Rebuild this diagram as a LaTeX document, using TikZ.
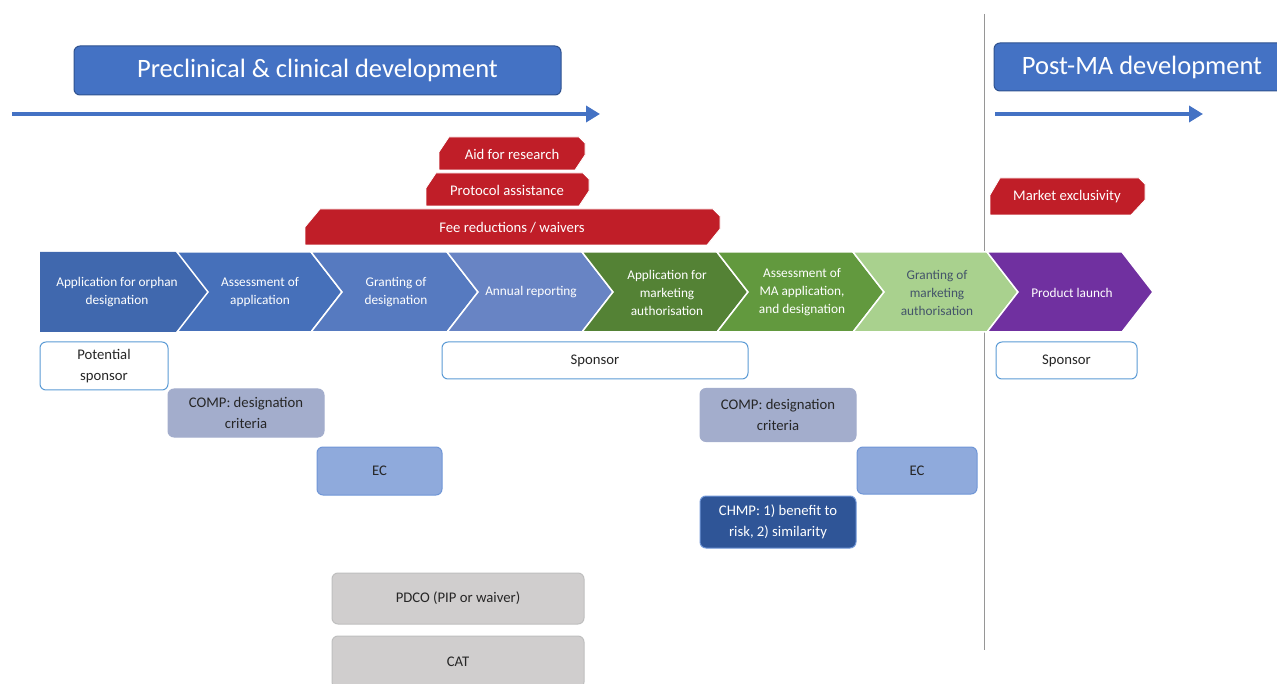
\documentclass[tikz,border=0pt]{standalone}
\usepackage{fontspec}
\setmainfont{Carlito}
\usetikzlibrary{arrows.meta}
\definecolor{titleblue}{RGB}{68,114,196}
\definecolor{titleedge}{RGB}{47,82,143}
\definecolor{tagred}{RGB}{192,30,40}
\definecolor{chevA}{RGB}{64,104,174}
\definecolor{chevB}{RGB}{70,112,186}
\definecolor{chevC}{RGB}{86,122,192}
\definecolor{chevD}{RGB}{104,132,196}
\definecolor{chevE}{RGB}{84,130,53}
\definecolor{chevF}{RGB}{98,153,62}
\definecolor{chevG}{RGB}{169,209,142}
\definecolor{chevH}{RGB}{112,48,160}
\definecolor{edgeblue}{RGB}{91,155,213}
\definecolor{compfill}{RGB}{163,173,204}
\definecolor{ecfill}{RGB}{143,170,220}
\definecolor{ecedge}{RGB}{112,150,214}
\definecolor{chmpfill}{RGB}{47,85,151}
\definecolor{grayfill}{RGB}{208,206,206}
\definecolor{grayedge}{RGB}{191,191,191}
\definecolor{textdark}{RGB}{38,38,38}
\definecolor{textslate}{RGB}{68,84,106}
\definecolor{divider}{RGB}{150,150,150}
\begin{document}
\begin{tikzpicture}[x=1pt,y=-1pt,
    titlebox/.style={draw=titleedge,line width=1pt,fill=titleblue,rounded corners=6pt,
      inner sep=0pt,text=white,font=\fontsize{26.5}{30}\selectfont},
    phasearrow/.style={draw=titleblue,line width=4pt,-{Triangle[width=16pt,length=14pt]}},
    tag/.style={fill=tagred,draw=white,line width=0.8pt},
    tagtext/.style={text=white,font=\fontsize{14.7}{18}\selectfont},
    chev/.style={draw=white,line width=1.5pt},
    chevtext/.style={align=center,text=white,font=\fontsize{13.3}{18}\selectfont},
    actor/.style={rounded corners=6pt,inner sep=0pt,align=center,line width=1pt,
      text=textdark,font=\fontsize{14.7}{21.5}\selectfont},
    sponsorbox/.style={actor,draw=edgeblue,fill=white},
    compbox/.style={actor,draw=compfill,fill=compfill},
    ecbox/.style={actor,draw=ecedge,fill=ecfill},
    chmpbox/.style={actor,draw=ecedge,fill=chmpfill,text=white},
    graybox/.style={actor,draw=grayedge,fill=grayfill}]
  \useasboundingbox (0,0) rectangle (1277,684);
  \clip (0,0) rectangle (1277,684);

  % phase headers
  \node[titlebox,minimum width=487pt,minimum height=49pt] (preclin) at (317.5,70.5)
    {\raisebox{-2pt}{Preclinical \& clinical development}};
  \node[titlebox,minimum width=296pt,minimum height=48pt] (postma) at (1142,67)
    {\raisebox{-2pt}{Post-MA development}};
  \coordinate (preStart) at (12,114);
  \coordinate (preEnd)   at (600,114);
  \coordinate (postStart) at (995,114);
  \coordinate (postEnd)   at (1203,114);
  \draw[phasearrow] (preStart) -- (preEnd);
  \draw[phasearrow] (postStart) -- (postEnd);

  % divider
  \coordinate (divTop) at (984,14);
  \coordinate (divBot) at (984,650);
  \draw[divider,line width=1pt] (divTop) -- (divBot);

  % incentives
  \draw[tag] (449,137) -- (579,137) -- (585,143) -- (585,155) -- (575,170) -- (439,170) -- (439,152) -- cycle;
  \draw[tag] (436,173) -- (583,173) -- (589,179) -- (589,191) -- (579,206) -- (426,206) -- (426,188) -- cycle;
  \draw[tag] (320,209) -- (713,209) -- (720,216) -- (720,229) -- (707,245) -- (305,245) -- (305,227) -- cycle;
  \draw[tag] (1000,178) -- (1139,178) -- (1145,184) -- (1145,200) -- (1131,215) -- (990,215) -- (990,195) -- cycle;
  \node[tagtext] (aid)       at (512,154)   {Aid for research};
  \node[tagtext] (protocol)  at (507,190)   {Protocol assistance};
  \node[tagtext] (fees)      at (512,228)   {Fee reductions / waivers};
  \node[tagtext] (exclusive) at (1067,197)  {Market exclusivity};

  % process chevrons
  \fill[chevA] (40,252) -- (177,252) -- (208,292) -- (177,332) -- (40,332) -- cycle;
  \draw[chev,fill=chevB] (177,252) -- (311,252) -- (342,292) -- (311,332) -- (177,332) -- (208,292) -- cycle;
  \draw[chev,fill=chevC] (311,252) -- (447,252) -- (478,292) -- (447,332) -- (311,332) -- (342,292) -- cycle;
  \draw[chev,fill=chevD] (447,252) -- (582,252) -- (613,292) -- (582,332) -- (447,332) -- (478,292) -- cycle;
  \draw[chev,fill=chevE] (582,252) -- (717,252) -- (748,292) -- (717,332) -- (582,332) -- (613,292) -- cycle;
  \draw[chev,fill=chevF] (717,252) -- (853,252) -- (884,292) -- (853,332) -- (717,332) -- (748,292) -- cycle;
  \draw[chev,fill=chevG] (853,252) -- (987,252) -- (1018,292) -- (987,332) -- (853,332) -- (884,292) -- cycle;
  \draw[chev,fill=chevH] (987,252) -- (1122,252) -- (1153,292) -- (1122,332) -- (987,332) -- (1018,292) -- cycle;
  \node[chevtext] (orphanapp) at (117,292.5)  {Application for orphan\\designation};
  \node[chevtext] (assess)    at (260,292.5)  {Assessment of\\application};
  \node[chevtext] (grant)     at (396,292.5)  {Granting of\\designation};
  \node[chevtext] (annual)    at (531,292.5)  {Annual reporting};
  \node[chevtext] (maapp)     at (667,292.5)  {Application for\\marketing\\authorisation};
  \node[chevtext] (maassess)  at (802,292.5)  {Assessment of\\MA application,\\and designation};
  \node[chevtext,text=textslate] (magrant) at (937,292.5) {Granting of\\marketing\\authorisation};
  \node[chevtext] (launch)    at (1072,292.5) {Product launch};

  % actors
  \node[sponsorbox,minimum width=128pt,minimum height=48pt] (potsponsor) at (104,366) {Potential\\sponsor};
  \node[compbox,minimum width=156pt,minimum height=48pt] (comporphan) at (246,413) {COMP: designation\\criteria};
  \node[ecbox,minimum width=125pt,minimum height=48pt] (ecorphan) at (379.5,471) {EC};
  \node[sponsorbox,minimum width=306pt,minimum height=37pt] (sponsor) at (595,360.5) {Sponsor};
  \node[compbox,minimum width=156pt,minimum height=53pt] (compma) at (778,415) {COMP: designation\\criteria};
  \node[ecbox,minimum width=120pt,minimum height=47pt] (ecma) at (917,470.5) {EC};
  \node[chmpbox,minimum width=156pt,minimum height=52pt] (chmp) at (778,522) {CHMP: 1) benefit to\\risk, 2) similarity};
  \node[sponsorbox,minimum width=141pt,minimum height=37pt] (launchsponsor) at (1066.5,360.5) {Sponsor};
  \node[graybox,minimum width=252pt,minimum height=51pt] (pdco) at (458,598.5) {PDCO (PIP or waiver)};
  \node[graybox,minimum width=252pt,minimum height=52pt] (cat) at (458,662) {CAT};
\end{tikzpicture}
\end{document}
